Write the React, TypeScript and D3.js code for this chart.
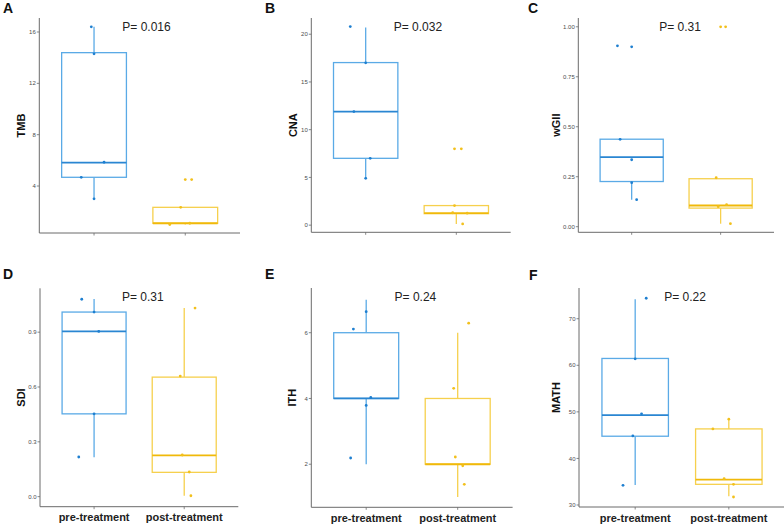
import React from "react";
import * as d3 from "d3";

// ---------- data ----------
const categories = ["pre-treatment", "post-treatment"];
const panelLetters = ["A", "B", "C", "D", "E", "F"];
const metricNames = ["TMB", "CNA", "wGII", "SDI", "ITH", "MATH"];
const pValues = ["0.016", "0.032", "0.31", "0.31", "0.24", "0.22"];

const yTicks: number[][] = [
  [4, 8, 12, 16],
  [0, 5, 10, 15, 20],
  [0, 0.25, 0.5, 0.75, 1.0],
  [0, 0.3, 0.6, 0.9],
  [2, 4, 6],
  [30, 40, 50, 60, 70],
];
const tickFormats = ["d", "d", ".2f", ".1f", "d", "d"];
const yDomains: [number, number][] = [
  [0.34, 17.09],
  [-0.75, 21.7],
  [-0.028, 1.044],
  [-0.055, 1.14],
  [0.69, 7.36],
  [29.57, 76.6],
];

// box stats per panel: [pre, post], each [whiskerLow, q1, median, q3, whiskerHigh]
const boxStats: number[][][] = [
  [[3.0, 4.68, 5.82, 14.39, 16.4], [1.0, 1.09, 1.1, 2.34, 2.34]],
  [[4.9, 7.0, 11.9, 17.03, 20.7], [0.13, 1.2, 1.25, 2.05, 2.05]],
  [[0.135, 0.226, 0.348, 0.4377, 0.4377], [0.015, 0.093, 0.106, 0.24, 0.24]],
  [[0.215, 0.453, 0.904, 1.01, 1.081], [0.005, 0.133, 0.226, 0.654, 1.032]],
  [[2, 4, 4, 6, 7], [1, 2, 2, 4, 6]],
  [[34.3, 44.77, 49.28, 61.47, 74.2], [31.86, 34.44, 35.45, 46.34, 48.35]],
];

// jittered points per panel: [pre, post] values
const pointValues: number[][][] = [
  [[16.4, 14.3, 5.85, 4.68, 3.0], [4.5, 4.5, 2.34, 1.0, 1.1]],
  [[20.8, 17.0, 11.9, 7.0, 4.9], [8.0, 8.0, 2.05, 1.3, 1.25, 0.13]],
  [[0.905, 0.9, 0.437, 0.335, 0.22, 0.135], [1.0, 1.0, 0.245, 0.1, 0.11, 0.015]],
  [[1.08, 1.01, 0.904, 0.453, 0.217], [1.032, 0.66, 0.228, 0.135, 0.005]],
  [[6.64, 6.11, 4.03, 3.79, 2.19], [6.29, 4.31, 2.22, 1.95, 1.39]],
  [[74.4, 61.4, 49.57, 44.84, 34.23], [48.42, 46.34, 35.66, 34.44, 31.72]],
];
// horizontal jitter, in category-step units
const pointJitter: number[][][] = [
  [[-0.03, 0, 0.11, -0.14, 0], [0, 0.07, -0.05, -0.17, 0.05]],
  [[-0.17, 0, -0.13, 0.05, 0], [-0.02, 0.055, -0.02, -0.04, 0.12, 0.07]],
  [[-0.16, 0, -0.13, 0, 0, 0.056], [0, 0.056, -0.05, -0.027, 0.067, 0.11]],
  [[-0.137, 0, 0.052, 0, -0.17], [0.12, -0.044, -0.022, 0.056, 0.074]],
  [[0, -0.14, 0.05, 0, -0.17], [0.12, -0.044, -0.026, 0.055, 0.072]],
  [[0.118, 0, 0.068, -0.025, -0.13], [0, -0.17, -0.05, 0.05, 0.05]],
];

// ---------- layout ----------
const layout = [
  { left: 39.3, top: 18, bottom: 233, right: 240, labelX: 25, lx: 3, ly: 13, xLabels: false },
  { left: 311.3, top: 18, bottom: 232.3, right: 510.7, labelX: 297, lx: 265, ly: 13, xLabels: false },
  { left: 578.3, top: 18, bottom: 232.3, right: 774, labelX: 560, lx: 528, ly: 13, xLabels: false },
  { left: 40, top: 288.3, bottom: 506.7, right: 238.3, labelX: 25.2, lx: 3, ly: 279, xLabels: true },
  { left: 311.3, top: 288, bottom: 507.3, right: 512.6, labelX: 296, lx: 265, ly: 279, xLabels: true },
  { left: 579, top: 288, bottom: 507, right: 785, labelX: 560.3, lx: 529, ly: 280, xLabels: true },
];

const boxColors = ["#5aaae6", "#f6d04d"];
const medianColors = ["#2a86d2", "#f0b90a"];
const pointColors = ["#1e7fd0", "#f2c01c"];
const FONT = "'Liberation Sans', Arial, Helvetica, sans-serif";

function Panel({ i }: { i: number }) {
  const L = layout[i];
  const x = d3
    .scalePoint<string>()
    .domain(categories)
    .range([L.left, L.right])
    .padding(0.6);
  const step = x.step();
  const y = d3.scaleLinear().domain(yDomains[i]).range([L.bottom, L.top]);
  const fmt = d3.format(tickFormats[i]);
  const boxW = step * 0.71;
  const axisColor = "#6b6b6b";

  return (
    <g>
      <text x={L.lx} y={L.ly} fontFamily={FONT} fontWeight="bold" fontSize={14} fill="#111">
        {panelLetters[i]}
      </text>
      {/* boxes */}
      {categories.map((c, k) => {
        const [wl, q1, med, q3, wh] = boxStats[i][k];
        const cx = x(c)!;
        return (
          <g key={c}>
            <line x1={cx} x2={cx} y1={y(q3)} y2={y(wh)} stroke={boxColors[k]} strokeWidth={1.3} />
            <line x1={cx} x2={cx} y1={y(q1)} y2={y(wl)} stroke={boxColors[k]} strokeWidth={1.3} />
            <rect
              x={cx - boxW / 2}
              y={y(q3)}
              width={boxW}
              height={Math.max(0.5, y(q1) - y(q3))}
              fill="white"
              stroke={boxColors[k]}
              strokeWidth={1.3}
            />
            <line
              x1={cx - boxW / 2}
              x2={cx + boxW / 2}
              y1={y(med)}
              y2={y(med)}
              stroke={medianColors[k]}
              strokeWidth={1.8}
            />
          </g>
        );
      })}
      {/* points */}
      {categories.map((c, k) =>
        pointValues[i][k].map((v, j) => (
          <circle
            key={c + j}
            cx={x(c)! + pointJitter[i][k][j] * step}
            cy={y(v)}
            r={1.4}
            fill={pointColors[k]}
          />
        ))
      )}
      {/* axes */}
      <line x1={L.left} x2={L.left} y1={L.top} y2={L.bottom} stroke={axisColor} strokeWidth={1} />
      <line x1={L.left} x2={L.right} y1={L.bottom} y2={L.bottom} stroke={axisColor} strokeWidth={1} />
      {yTicks[i].map((t) => (
        <g key={t}>
          <line x1={L.left - 2.5} x2={L.left} y1={y(t)} y2={y(t)} stroke={axisColor} strokeWidth={0.8} />
          <text
            x={L.left - 3.5}
            y={y(t)}
            dy="0.35em"
            textAnchor="end"
            fontFamily={FONT}
            fontSize={6}
            fill="#4d4d4d"
          >
            {fmt(t)}
          </text>
        </g>
      ))}
      {categories.map((c) => (
        <g key={c}>
          <line x1={x(c)} x2={x(c)} y1={L.bottom} y2={L.bottom + 2.5} stroke={axisColor} strokeWidth={0.8} />
          {L.xLabels && (
            <text
              x={x(c)}
              y={L.bottom + 14.5}
              textAnchor="middle"
              fontFamily={FONT}
              fontWeight="bold"
              fontSize={11}
              fill="#222"
            >
              {c}
            </text>
          )}
        </g>
      ))}
      <text
        transform={`translate(${L.labelX},${(L.top + L.bottom) / 2}) rotate(-90)`}
        textAnchor="middle"
        fontFamily={FONT}
        fontWeight="bold"
        fontSize={11}
        fill="#111"
      >
        {metricNames[i]}
      </text>
      <text
        x={x(categories[0])! + 0.31 * step}
        y={L.top + 13}
        fontFamily={FONT}
        fontSize={12}
        fill="#222"
      >
        {"P= " + pValues[i]}
      </text>
    </g>
  );
}

export default function App() {
  return (
    <svg
      width={784}
      height={525}
      style={{ position: "absolute", left: 0, top: 0, background: "white" }}
    >
      <rect width={784} height={525} fill="white" />
      {layout.map((_, i) => (
        <Panel key={i} i={i} />
      ))}
    </svg>
  );
}
